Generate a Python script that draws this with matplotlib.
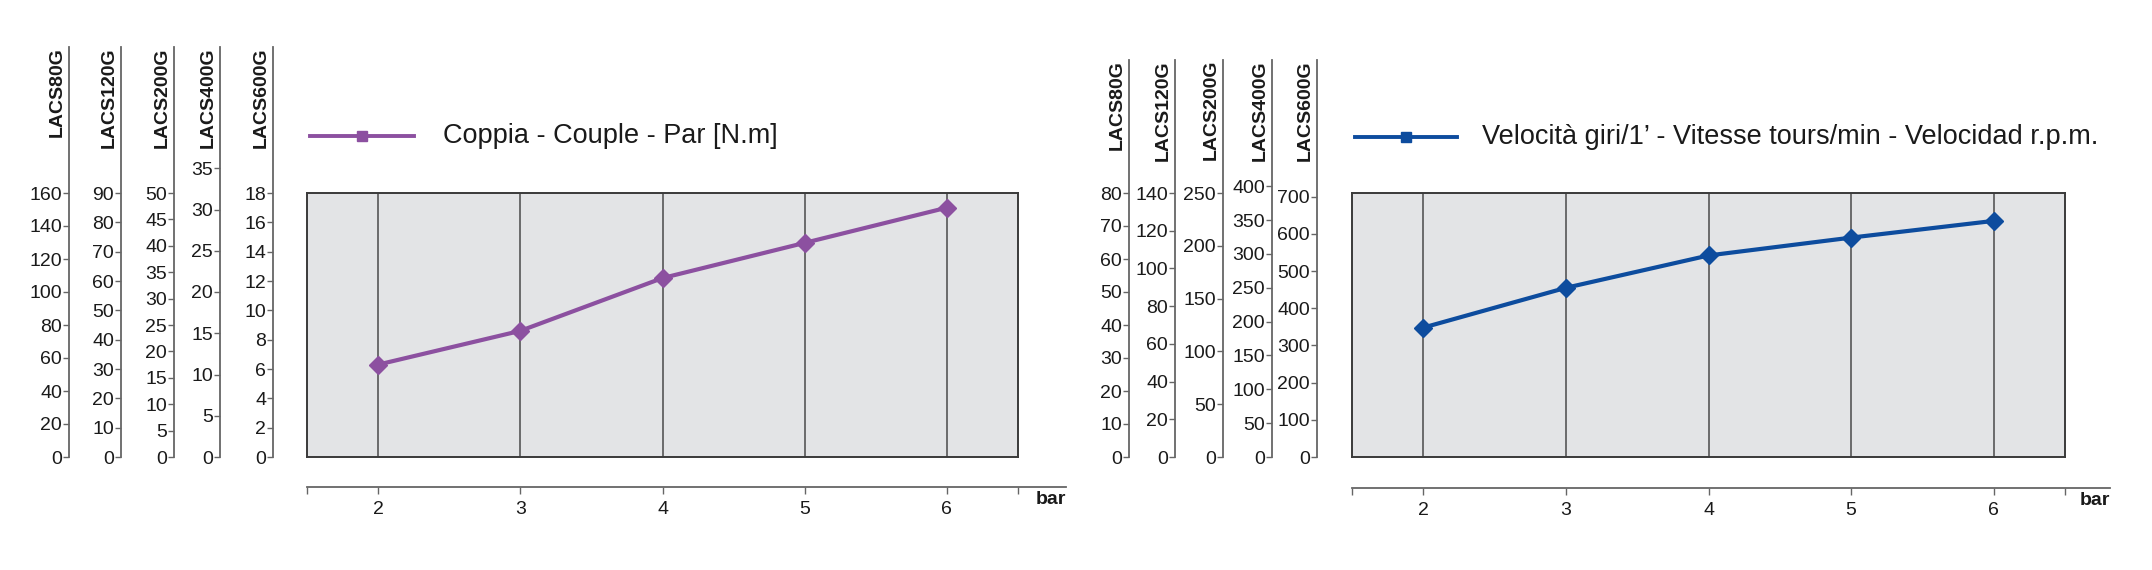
import matplotlib
matplotlib.use("Agg")
import matplotlib.pyplot as plt
from matplotlib.lines import Line2D
import numpy as np

W, H = 2152, 570
plt.rcParams['font.family'] = ['Liberation Sans', 'DejaVu Sans']

# data
pressure = [2, 3, 4, 5, 6]
models = ['LACS80G', 'LACS120G', 'LACS200G', 'LACS400G', 'LACS600G']

torque = [6.3, 8.6, 12.2, 14.6, 17.0]          # on the LACS600G scale
torque_top = [160, 90, 50, 32, 18]             # scale value at top of the grey box
torque_ticks = [np.arange(0, 161, 20), np.arange(0, 91, 10), np.arange(0, 51, 5),
                np.arange(0, 36, 5), np.arange(0, 19, 2)]
torque_label = 'Coppia - Couple - Par [N.m]'

speed = [348, 455, 542, 590, 635]              # on the LACS600G scale
speed_top = [80, 140, 250, 390, 710]
speed_ticks = [np.arange(0, 81, 10), np.arange(0, 141, 20), np.arange(0, 251, 50),
               np.arange(0, 401, 50), np.arange(0, 701, 100)]
speed_label = 'Velocità giri/1’ - Vitesse tours/min - Velocidad r.p.m.'

x_ticks = [1.5, 2, 3, 4, 5, 6, 6.5]
x_ticklabels = ['', '2', '3', '4', '5', '6', '']


def px_axes(fig, x0, y0, x1, y1):
    # box given in pixels, y from the top
    return fig.add_axes([x0 / W, 1 - y1 / H, (x1 - x0) / W, (y1 - y0) / H])


def panel(fig, box, spine_x, spine_top, tops, ticks, values, color,
          label, leg, axis_y, axis_right):
    bx0, by0, bx1, by1 = box
    ax = px_axes(fig, bx0, by0, bx1, by1)
    ax.set_facecolor('#e3e4e6')
    ax.set_xlim(1.5, 6.5)
    ax.set_ylim(0, tops[-1])
    for x in pressure:
        ax.axvline(x, color='#4a4a4a', lw=1.1, zorder=1)
    ax.plot(pressure, values, color=color, lw=3, marker='D', ms=9, zorder=3,
            clip_on=False)
    ax.set_xticks([])
    ax.set_yticks([])
    for s in ax.spines.values():
        s.set_color('#3a3a3a')
        s.set_linewidth(1.4)

    # the stacked model scales
    for sx, name, top, tk in zip(spine_x, models, tops, ticks):
        per = (by1 - by0) / top
        sa = px_axes(fig, sx, spine_top, sx + 1, by1)
        sa.set_ylim(0, (by1 - spine_top) / per)
        sa.patch.set_visible(False)
        for k in ['top', 'right', 'bottom']:
            sa.spines[k].set_visible(False)
        sa.spines['left'].set_color('#666666')
        sa.spines['left'].set_linewidth(1.3)
        sa.set_xticks([])
        sa.set_yticks(tk)
        sa.set_yticklabels([str(v) for v in tk])
        sa.tick_params(axis='y', direction='out', length=4.5, width=1.0,
                       color='#666666', pad=0.5, labelsize=14, labelcolor='#1a1a1a')
        sa.annotate(name, xy=(0, 1), xycoords='axes fraction', xytext=(-2, 0),
                    textcoords='offset points', rotation=90, ha='right', va='top',
                    fontsize=14, fontweight='bold', color='#1a1a1a')

    # bottom pressure axis
    pxu = (bx1 - bx0) / 5.0
    xa = px_axes(fig, bx0, axis_y, axis_right, axis_y + 1)
    xa.set_xlim(1.5, 1.5 + (axis_right - bx0) / pxu)
    xa.patch.set_visible(False)
    for k in ['top', 'right', 'left']:
        xa.spines[k].set_visible(False)
    xa.spines['bottom'].set_color('#666666')
    xa.spines['bottom'].set_linewidth(1.3)
    xa.set_yticks([])
    xa.set_xticks(x_ticks)
    xa.set_xticklabels(x_ticklabels)
    xa.tick_params(axis='x', direction='out', length=5, width=1.0,
                   color='#666666', pad=5, labelsize=14, labelcolor='#1a1a1a')
    xa.annotate('bar', xy=(1, 0), xycoords='axes fraction', xytext=(0, -3),
                textcoords='offset points', ha='right', va='top',
                fontsize=14, fontweight='bold', color='#1a1a1a')

    # legend
    lx0, lx1, ly, tx = leg
    fig.add_artist(Line2D([lx0 / W, lx1 / W], [1 - ly / H] * 2,
                          transform=fig.transFigure, color=color, lw=2.8))
    fig.add_artist(Line2D([(lx0 + lx1) / 2 / W], [1 - ly / H], marker='s', ms=7,
                          transform=fig.transFigure, color=color, lw=0))
    fig.text(tx / W, 1 - ly / H, label, ha='left', va='center',
             fontsize=19.5, color='#1a1a1a')


fig = plt.figure(figsize=(W / 100, H / 100), dpi=100)

panel(fig, (307, 193, 1018, 457), [69, 121, 174, 220, 273], 47,
      torque_top, torque_ticks, torque, '#8c50a0',
      torque_label, (310, 414, 136, 443), 486, 1066)

panel(fig, (1352, 193, 2065, 457), [1129, 1175, 1223, 1272, 1317], 60,
      speed_top, speed_ticks, speed, '#0d4c9e',
      speed_label, (1355, 1457, 137, 1482), 487, 2110)

fig.savefig('out.png', dpi=100)
